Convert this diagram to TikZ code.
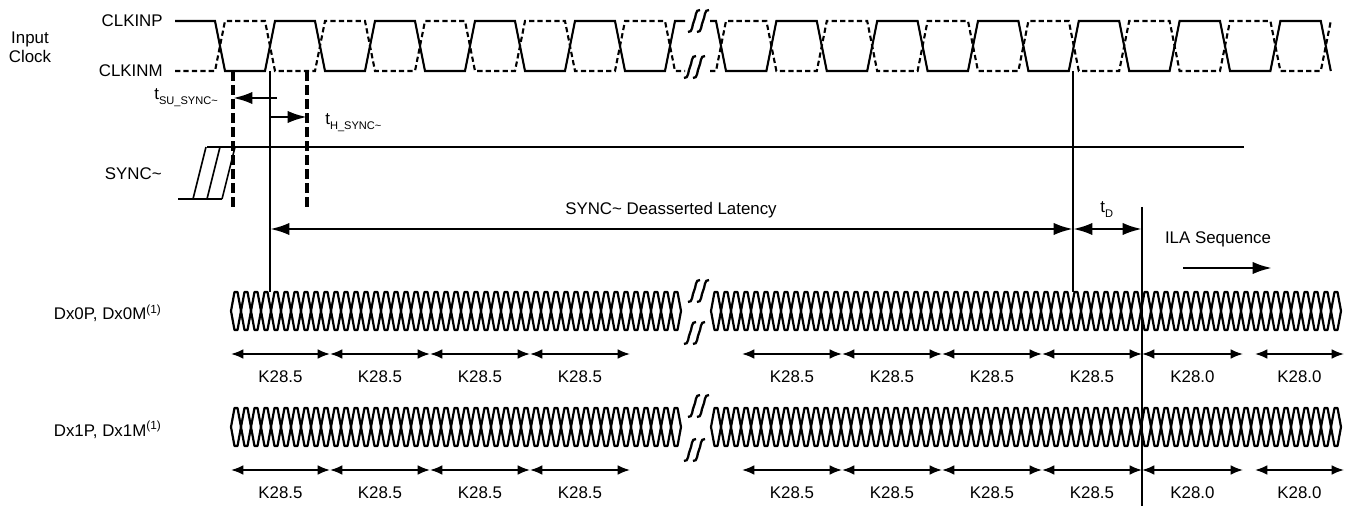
\documentclass[tikz,border=0pt]{standalone}
\usepackage{fontspec}
\setmainfont{Liberation Sans}
\usetikzlibrary{arrows.meta,positioning}

\newcommand{\tsub}[1]{t\raisebox{-2.6pt}{\fontsize{6.3}{7}\selectfont #1}}

\begin{document}
\begin{tikzpicture}[x=0.02cm,y=-0.02cm,>={Latex[length=7pt,width=5.5pt]},font=\fontsize{9.6}{11.5}\selectfont,
  every node/.style={inner sep=0pt},
  wave/.style={line width=1.2pt},
  neg/.style={wave,dash pattern=on 3pt off 1.8pt},
  eye/.style={line width=1.25pt,line join=round},
  vline/.style={line width=0.9pt},
  winline/.style={line width=1.8pt,dash pattern=on 5.5pt off 2.5pt},
  timing/.style={line width=1.5pt,>={Latex[length=11pt,width=7pt]}},
  kspan/.style={line width=1pt,<->},
  squig/.pic={\draw[line width=1.3pt] (-6,11) .. controls (-1,12) and (-2,3) .. (0,0) .. controls (2,-3) and (1,-12) .. (6,-11);},
  brk/.pic={\pic {squig}; \pic at (9,0) {squig};}]
  \useasboundingbox (0,0) rectangle (1345,506);

  % labels on the left
  \node[align=center,font=\fontsize{9.6}{10.8}\selectfont] (inclk) at (30,47) {Input\\Clock};
  \node[anchor=east] (clkp) at (163,21) {CLKINP};
  \node[anchor=east] (clkm) at (163,71) {CLKINM};
  \node[anchor=east] (sync) at (162,174) {SYNC\textasciitilde};
  \node[anchor=base east] (dx0) at (162,320) {Dx0P, Dx0M\textsuperscript{(1)}};
  \node[anchor=base east] (dx1) at (162,436) {Dx1P, Dx1M\textsuperscript{(1)}};

  % input clock
  \draw[wave] (175,21) \foreach \k in {0,...,4} { -- ({215+100*\k},21) -- ({225+100*\k},71) -- ({265+100*\k},71) -- ({275+100*\k},21) } -- (685,21);
  \draw[neg] (175,71) \foreach \k in {0,...,4} { -- ({215+100*\k},71) -- ({225+100*\k},21) -- ({265+100*\k},21) -- ({275+100*\k},71) } -- (685,71);
  \draw[wave] (710,21) \foreach \k in {0,...,5} { -- ({716+100.8*\k},21) -- ({726+100.8*\k},71) -- ({766.4+100.8*\k},71) -- ({776.4+100.8*\k},21) } -- (1320.8,21) -- (1330.8,71);
  \draw[neg] (710,71) \foreach \k in {0,...,5} { -- ({716+100.8*\k},71) -- ({726+100.8*\k},21) -- ({766.4+100.8*\k},21) -- ({776.4+100.8*\k},71) } -- (1320.8,71) -- (1330.8,21);

  % edges and levels
  \coordinate (su) at (233,71);
  \coordinate (ho) at (307,71);
  \coordinate (e1) at (270,71);
  \coordinate (e2) at (1073,71);
  \coordinate (ila) at (1142,207);
  \coordinate (ysu) at (0,98);
  \coordinate (yho) at (0,117);
  \coordinate (ywin) at (0,208);
  \coordinate (ylat) at (0,229);
  \coordinate (dtop) at (0,292);
  \coordinate (bot) at (0,506);

  % SYNC~
  \draw[vline] (207,147) -- (1244,147);
  \draw[vline] (178,199) -- (222,199);
  \foreach \s in {0,14,29} \draw[vline] ({193+\s},199) -- ({206+\s},147);

  % setup / hold window
  \draw[winline] (su) -- (su |- ywin);
  \draw[winline] (ho) -- (ho |- ywin);
  \draw[timing,->] ([xshift=4]e1 |- ysu) -- (su |- ysu);
  \draw[timing,->] (e1 |- yho) -- (ho |- yho);
  \node[anchor=base west] (tsu) at (154,100) {\tsub{SU\_SYNC\textasciitilde}};
  \node[anchor=base west] (th) at (325,125) {\tsub{H\_SYNC\textasciitilde}};

  % reference lines
  \draw[vline] (e1) -- (e1 |- dtop);
  \draw[vline] (e2) -- (e2 |- dtop);
  \draw[vline] (ila) -- (ila |- bot);

  % latency
  \draw[timing,<->] (e1 |- ylat) -- (e2 |- ylat);
  \draw[timing,<->] (e2 |- ylat) -- (ila |- ylat);
  \node (lat) at (671,210) {SYNC\textasciitilde{} Deasserted Latency};
  \node[anchor=base west] (td) at (1100,213) {\tsub{D}};
  \node (ilaseq) at (1218,239) {ILA Sequence};
  \coordinate (ilaa) at (1183,268);
  \coordinate (ilab) at (1272,268);
  \draw[timing,->] (ilaa) -- (ilab);

  % lane data
  \foreach \m in {311,427} {
    \foreach \i in {0,...,44} \draw[eye] ({231+10*\i},\m) -- ++(3.5,-19) -- ++(3,0) -- ++(3.5,19) -- ++(-3.5,19) -- ++(-3,0) -- cycle;
    \foreach \i in {0,...,62} \draw[eye] ({711+10*\i},\m) -- ++(3.5,-19) -- ++(3,0) -- ++(3.5,19) -- ++(-3.5,19) -- ++(-3,0) -- cycle;
  }

  % breaks
  \foreach \yu/\yd in {21/67,291/333,406/450} {
    \pic at (694,\yu) {brk};
    \pic at (690,\yd) {brk};
  }

  % characters
  \foreach \y/\yl in {354/377,470/493}
    \foreach \a/\b/\t in {231/330/K28.5,330/430/K28.5,430/530/K28.5,530/630/K28.5,742/842/K28.5,842/942/K28.5,942/1042/K28.5,1042/1142/K28.5,1142/1243/K28.0,1255/1344/K28.0} {
      \draw[kspan] (\a,\y) -- (\b,\y);
      \node (k\y-\a) at ({(\a+\b)/2},\yl) {\t};
    }
\end{tikzpicture}
\end{document}
